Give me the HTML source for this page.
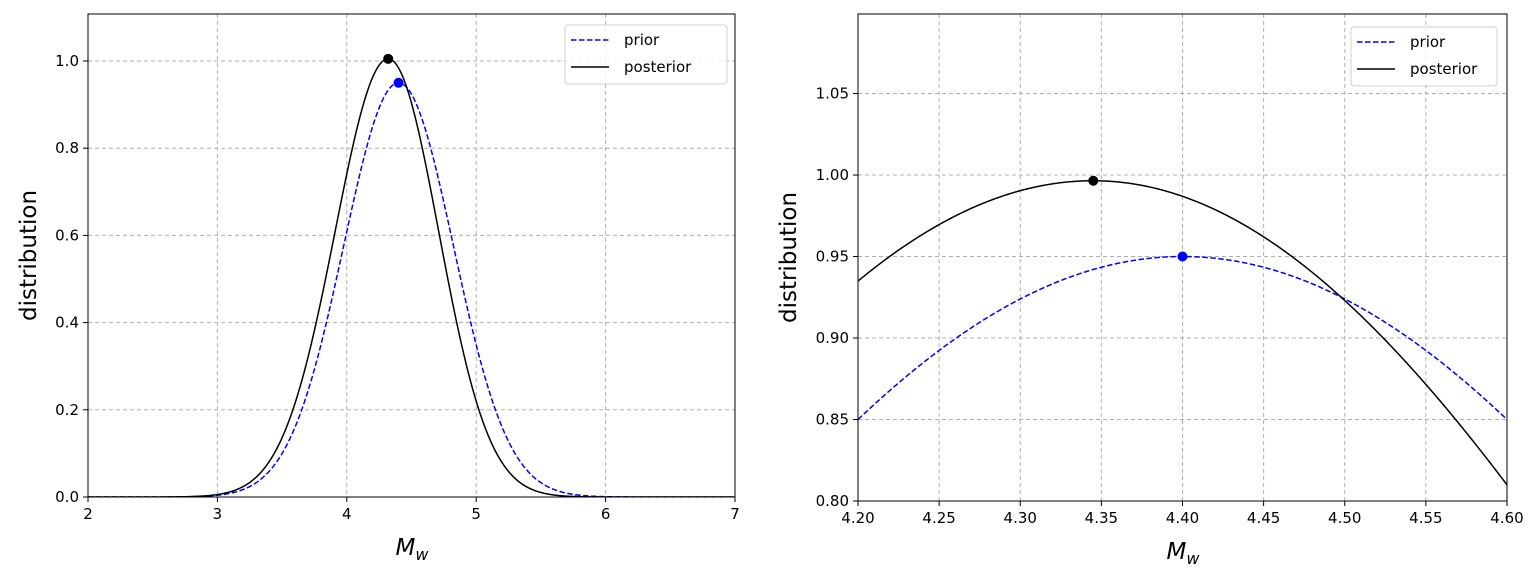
<!DOCTYPE html>
<html><head><meta charset="utf-8"><style>
body{margin:0;background:#fff}
svg text{font-family:"DejaVu Sans","Liberation Sans",sans-serif;fill:#000}
</style></head><body>
<svg id="s" width="1535" height="575" xmlns="http://www.w3.org/2000/svg">
<rect width="1535" height="575" fill="#fff"/>
<g id="g"></g>
</svg>
<script>
const g=document.getElementById('g');let h='';
function P(o){
 const X=v=>o.x0+(v-o.xa)/(o.xb-o.xa)*(o.x1-o.x0);
 const Y=v=>o.y0-(v-o.ya)/(o.yb-o.ya)*(o.y0-o.y1);
 h+=`<clipPath id="c${o.id}"><rect x="${o.x0}" y="${o.y1}" width="${o.x1-o.x0}" height="${o.y0-o.y1}"/></clipPath>`;
 for(const t of o.xt){const x=X(t);h+=`<line x1="${x}" y1="${o.y1}" x2="${x}" y2="${o.y0}" stroke="#b0b0b0" stroke-dasharray="4,3" stroke-width="1"/>`;
  h+=`<line x1="${x}" y1="${o.y0}" x2="${x}" y2="${o.y0+5}" stroke="#000"/><text x="${x}" y="${o.y0+22}" font-size="15" text-anchor="middle">${t.toFixed(o.xd)}</text>`;}
 for(const t of o.yt){const y=Y(t);h+=`<line x1="${o.x0}" y1="${y}" x2="${o.x1}" y2="${y}" stroke="#b0b0b0" stroke-dasharray="4,3" stroke-width="1"/>`;
  h+=`<line x1="${o.x0-5}" y1="${y}" x2="${o.x0}" y2="${y}" stroke="#000"/><text x="${o.x0-9}" y="${y+5}" font-size="15" text-anchor="end">${t.toFixed(o.yd)}</text>`;}
 function path(f){let d='';for(let i=0;i<=600;i++){const v=o.xa+(o.xb-o.xa)*i/600;d+=(i?'L':'M')+X(v).toFixed(2)+','+Y(f(v)).toFixed(2);}return d;}
 const pr=v=>0.95*Math.exp(-Math.pow(v-o.pm,2)/(2*o.ps*o.ps));
 const po=v=>o.qa*Math.exp(-Math.pow(v-o.qm,2)/(2*Math.pow(v<o.qm?o.qs1:o.qs2,2)));
 h+=`<g clip-path="url(#c${o.id})"><path d="${path(pr)}" fill="none" stroke="#0000ff" stroke-width="1.5" stroke-dasharray="5.5,2.5"/><path d="${path(po)}" fill="none" stroke="#000" stroke-width="1.5"/></g>`;
 h+=`<circle cx="${X(o.qm)}" cy="${Y(o.qa)}" r="5" fill="#000"/><circle cx="${X(o.pm)}" cy="${Y(0.95)}" r="5" fill="#0000ff"/>`;
 h+=`<rect x="${o.x0}" y="${o.y1}" width="${o.x1-o.x0}" height="${o.y0-o.y1}" fill="none" stroke="#000" stroke-width="1"/>`;
 const L=o.lg;
 h+=`<rect x="${L[0]}" y="${L[1]}" width="${L[2]}" height="59" rx="3" fill="#fff" fill-opacity="0.8" stroke="#d0d0d0"/>`;
 h+=`<line x1="${L[0]+6}" y1="${L[1]+15}" x2="${L[0]+44}" y2="${L[1]+15}" stroke="#0000ff" stroke-width="1.5" stroke-dasharray="5.5,2.5"/><text x="${L[0]+59}" y="${L[1]+20}" font-size="15">prior</text>`;
 h+=`<line x1="${L[0]+6}" y1="${L[1]+42}" x2="${L[0]+44}" y2="${L[1]+42}" stroke="#000" stroke-width="1.5"/><text x="${L[0]+59}" y="${L[1]+47}" font-size="15">posterior</text>`;
 const cx=(o.x0+o.x1)/2;
 h+=`<text x="${cx-16}" y="${o.y0+58}" font-size="23" font-style="italic">M<tspan font-size="16" dy="5">w</tspan></text>`;
 const ly=(o.y0+o.y1)/2;
 h+=`<text transform="translate(${o.lx},${ly}) rotate(-90)" font-size="23" text-anchor="middle">distribution</text>`;
}
P({id:1,x0:88,x1:735,y0:497,y1:14,xa:2,xb:7,ya:0,yb:1.1078,xt:[2,3,4,5,6,7],xd:0,yt:[0,0.2,0.4,0.6,0.8,1.0],yd:1,
 pm:4.40,ps:0.424,qm:4.32,qa:1.005,qs1:0.41,qs2:0.39,lg:[565,25,162],lx:36});
P({id:2,x0:858,x1:1507,y0:501,y1:14,xa:4.2,xb:4.6,ya:0.8,yb:1.0988,xt:[4.2,4.25,4.3,4.35,4.4,4.45,4.5,4.55,4.6],xd:2,yt:[0.8,0.85,0.9,0.95,1.0,1.05],yd:2,
 pm:4.40,ps:0.424,qm:4.345,qa:0.9965,qs1:0.406,qs2:0.396,lg:[1351,27,146],lx:796});
g.innerHTML=h;
</script>
</body></html>
